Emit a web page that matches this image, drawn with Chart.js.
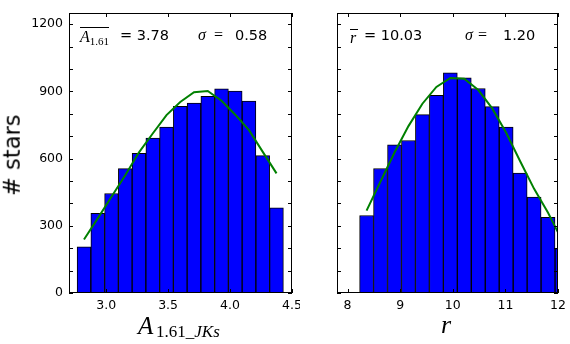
<!DOCTYPE html>
<html>
<head>
<meta charset="utf-8">
<script src="https://cdn.jsdelivr.net/npm/chart.js@4"></script>
<style>
  body { margin: 0; background: #fff; }
  #wrap { position: relative; width: 570px; height: 344px; overflow: hidden; }
  canvas { position: absolute; top: 0; }
  .t { position: absolute; white-space: pre; color: #000; line-height: 1; }
  .sans { font-family: "DejaVu Sans", sans-serif; }
  .math { font-family: "Liberation Serif", serif; font-style: italic; }
  .rm { font-family: "Liberation Serif", serif; font-style: normal; }
</style>
</head>
<body>
<div id="wrap">
  <canvas id="leftChart" width="300" height="344" style="left:0"></canvas>
  <canvas id="rightChart" width="270" height="344" style="left:300px"></canvas>

  <!-- y title -->
  <div class="t sans" style="font-size:22.5px; width:120px; text-align:center; left:-48px; top:144px; transform:rotate(-90deg);"># stars</div>

  <!-- left annotation -->
  <div class="t math" style="font-size:16px; left:80px; top:27px; border-top:1px solid #000; padding-top:1px;">A<span class="rm" style="font-size:11px; position:relative; top:3px;">1.61</span></div>
  <div class="t sans" style="font-size:14.5px; left:120px; top:28px;">= 3.78</div>
  <div class="t math" style="font-size:16px; left:198px; top:27px;">σ</div>
  <div class="t rm" style="font-size:16px; left:214px; top:27px;">=</div>
  <div class="t sans" style="font-size:14.5px; left:235px; top:28px;">0.58</div>

  <!-- right annotation -->
  <div class="t math" style="font-size:16px; left:350px; top:29px; border-top:1px solid #000; padding-top:0px; width:8px;">r</div>
  <div class="t sans" style="font-size:14.5px; left:364px; top:28px;">= 10.03</div>
  <div class="t math" style="font-size:16px; left:465px; top:27px;">σ</div>
  <div class="t rm" style="font-size:16px; left:478px; top:27px;">=</div>
  <div class="t sans" style="font-size:14.5px; left:503px; top:28px;">1.20</div>

  <!-- x titles -->
  <div class="t math" style="font-size:25px; left:138px; top:313px;">A</div>
  <div class="t" style="font-size:17px; left:156px; top:323px;"><span class="rm">1.61</span><span class="math">_JKs</span></div>
  <div class="t math" style="font-size:26px; left:441px; top:312px;">r</div>
</div>

<script>
// left panel: A_1.61 histogram
const leftCenters = [2.821, 2.932, 3.043, 3.154, 3.265, 3.376, 3.487, 3.598, 3.709, 3.820, 3.931, 4.042, 4.153, 4.264, 4.375];
const leftCounts  = [206, 356, 444, 555, 624, 692, 741, 833, 848, 878, 912, 901, 857, 613, 380];
const leftFit     = [239, 333, 430, 526, 628, 712, 794, 853, 896, 902, 858, 796, 727, 630, 534];
const leftXTicks  = [3.0, 3.5, 4.0, 4.5];

// right panel: r histogram
const rightCenters = [8.362, 8.627, 8.893, 9.158, 9.423, 9.689, 9.954, 10.219, 10.485, 10.750, 11.015, 11.281, 11.546, 11.811, 12.077];
const rightCounts  = [346, 556, 662, 681, 796, 882, 983, 961, 913, 832, 741, 535, 428, 338, 198];
const rightFit     = [368, 498, 627, 745, 845, 920, 960, 957, 906, 824, 715, 588, 465, 358, 235];
const rightXTicks  = [8, 9, 10, 11, 12];

// shared y axis
const yTicks   = [0, 100, 200, 300, 400, 500, 600, 700, 800, 900, 1000, 1100, 1200];
const yLabeled = [0, 300, 600, 900, 1200];

const tickFont = { family: 'DejaVu Sans', size: 12.5 };

// matplotlib style frame with inward ticks on all four sides
const frameTicks = {
    id: 'frameTicks',
    afterDraw(chart) {
        const { ctx, chartArea: a, scales } = chart;
        ctx.save();
        ctx.strokeStyle = '#000';
        ctx.lineWidth = 1;
        ctx.beginPath();
        scales.x.ticks.forEach(t => {
            const px = Math.round(scales.x.getPixelForValue(t.value)) + 0.5;
            ctx.moveTo(px, a.bottom); ctx.lineTo(px, a.bottom - 4);
            ctx.moveTo(px, a.top); ctx.lineTo(px, a.top + 4);
        });
        scales.y.ticks.forEach(t => {
            const py = Math.round(scales.y.getPixelForValue(t.value)) + 0.5;
            ctx.moveTo(a.left, py); ctx.lineTo(a.left + 4, py);
            ctx.moveTo(a.right, py); ctx.lineTo(a.right - 4, py);
        });
        ctx.stroke();
        ctx.strokeRect(a.left + 0.5, a.top + 0.5, a.right - a.left - 1, a.bottom - a.top - 1);
        ctx.restore();
    }
};

function makePanel(id, centers, counts, fit, xTicks, xMin, xMax, yWidth, padRight, showY, fmt) {
    const ctx = document.getElementById(id).getContext('2d');
    return new Chart(ctx, {
        type: 'bar',
        data: {
            datasets: [
                {
                    type: 'line',
                    data: centers.map((x, i) => ({ x: x, y: fit[i] })),
                    borderColor: '#008000',
                    borderWidth: 2,
                    pointRadius: 0,
                    tension: 0,
                    clip: 0,
                    order: 0
                },
                {
                    data: centers.map((x, i) => ({ x: x, y: counts[i] })),
                    backgroundColor: '#0000ff',
                    borderColor: '#000',
                    borderWidth: 1,
                    borderSkipped: false,
                    barPercentage: 1,
                    categoryPercentage: 1,
                    clip: 0,
                    order: 1
                }
            ]
        },
        options: {
            responsive: false,
            animation: false,
            layout: { padding: { top: 13, right: padRight, left: 0, bottom: 0 } },
            plugins: { legend: { display: false }, tooltip: { enabled: false } },
            scales: {
                x: {
                    type: 'linear',
                    min: xMin,
                    max: xMax,
                    offset: false,
                    grid: { display: false, drawTicks: false },
                    border: { display: false },
                    afterBuildTicks: s => { s.ticks = xTicks.map(v => ({ value: v })); },
                    afterFit: s => { s.height = 51; s.paddingLeft = 0; s.paddingRight = 0; },
                    ticks: {
                        color: '#000',
                        font: tickFont,
                        padding: 5,
                        maxRotation: 0,
                        autoSkip: false,
                        callback: v => fmt(v)
                    }
                },
                y: {
                    min: 0,
                    max: 1250,
                    grid: { display: false, drawTicks: false },
                    border: { display: false },
                    afterBuildTicks: s => { s.ticks = yTicks.map(v => ({ value: v })); },
                    afterFit: s => { s.width = yWidth; s.paddingTop = 0; s.paddingBottom = 0; },
                    ticks: {
                        color: '#000',
                        font: tickFont,
                        padding: 6,
                        autoSkip: false,
                        callback: v => (showY && yLabeled.includes(v)) ? String(v) : ''
                    }
                }
            }
        },
        plugins: [frameTicks]
    });
}

makePanel('leftChart', leftCenters, leftCounts, leftFit, leftXTicks, 2.7, 4.5, 69, 8, true, v => v.toFixed(1));
makePanel('rightChart', rightCenters, rightCounts, rightFit, rightXTicks, 7.8, 12, 37, 12, false, v => String(v));
</script>
</body>
</html>
